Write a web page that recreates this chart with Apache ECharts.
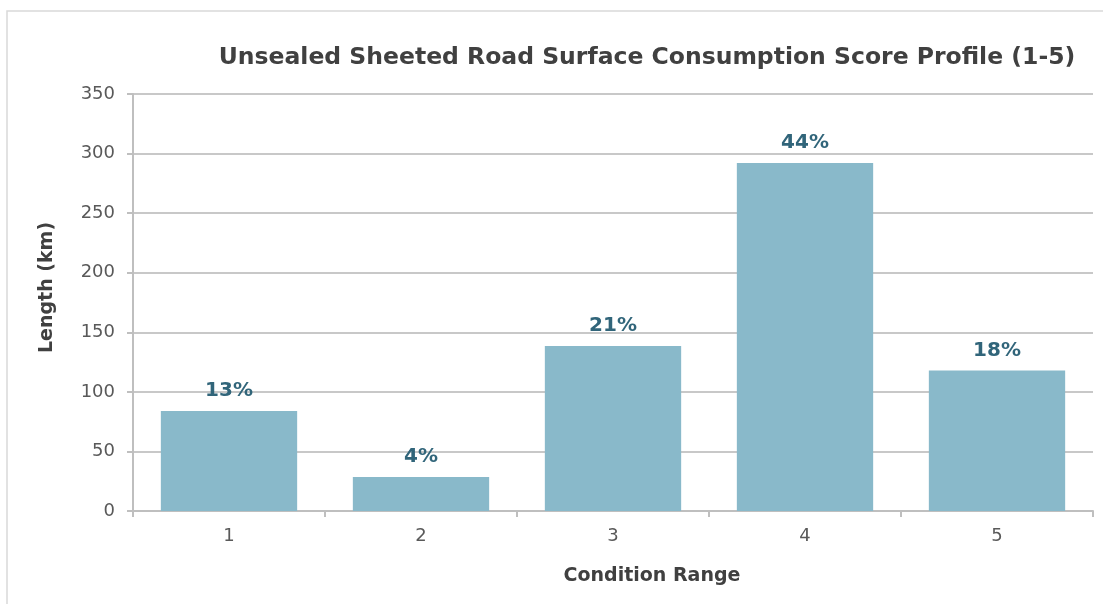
<!DOCTYPE html>
<html>
<head>
<meta charset="utf-8">
<script src="https://cdn.jsdelivr.net/npm/echarts@6/dist/echarts.min.js"></script>
<style>
  html, body { margin: 0; padding: 0; background: #ffffff; }
  #chart { width: 1103px; height: 604px; }
</style>
</head>
<body>
<div id="chart"></div>
<script>
// Condition score bands (1 = best, 5 = worst)
const categories = ['1', '2', '3', '4', '5'];
// Network length in each band, km
const lengthKm = [84, 28.5, 138.5, 292, 118];
// Share of total length, as printed above each bar
const shareLabels = ['13%', '4%', '21%', '44%', '18%'];
// Value axis range
const yMin = 0, yMax = 350, yStep = 50;

const FONT = '"DejaVu Sans", Verdana, sans-serif';
const chart = echarts.init(document.getElementById('chart'));

chart.setOption({
  animation: false,
  backgroundColor: '#ffffff',
  graphic: [{
    type: 'rect',
    shape: { x: 7, y: 11, width: 1110, height: 620 },
    style: { fill: 'none', stroke: '#d9d9d9', lineWidth: 1.5 },
    silent: true
  }],
  title: {
    text: 'Unsealed Sheeted Road Surface Consumption Score Profile (1-5)',
    left: 642,
    top: 41,
    textAlign: 'center',
    textStyle: { fontFamily: FONT, fontSize: 23.5, fontWeight: 'bold', color: '#404040' }
  },
  grid: { left: 133, right: 10, top: 94, bottom: 93 },
  xAxis: {
    type: 'category',
    data: categories,
    name: 'Condition Range',
    nameLocation: 'middle',
    nameGap: 56,
    nameTextStyle: {
      fontFamily: FONT, fontSize: 19, fontWeight: 'bold', color: '#404040',
      padding: [0, 0, 0, 78]
    },
    axisLine: { lineStyle: { color: '#bfbfbf', width: 2 } },
    axisTick: { show: true, length: 6, lineStyle: { color: '#bfbfbf', width: 2 } },
    axisLabel: { fontFamily: FONT, fontSize: 18, color: '#595959', margin: 16 }
  },
  yAxis: {
    type: 'value',
    min: yMin,
    max: yMax,
    interval: yStep,
    name: 'Length (km)',
    nameLocation: 'middle',
    nameGap: 76,
    nameTextStyle: {
      fontFamily: FONT, fontSize: 19, fontWeight: 'bold', color: '#404040',
      padding: [0, 0, 0, 30]
    },
    axisLine: { show: true, lineStyle: { color: '#bfbfbf', width: 2 } },
    axisTick: { show: true, length: 6, lineStyle: { color: '#bfbfbf', width: 2 } },
    axisLabel: { fontFamily: FONT, fontSize: 18, color: '#595959', margin: 18 },
    splitLine: { lineStyle: { color: '#c8c8c8', width: 2 } }
  },
  series: [{
    type: 'bar',
    data: lengthKm,
    barWidth: '71%',
    itemStyle: { color: '#89b9ca' },
    label: {
      show: true,
      position: 'top',
      distance: 10,
      formatter: p => shareLabels[p.dataIndex],
      fontFamily: FONT,
      fontSize: 20,
      fontWeight: 'bold',
      color: '#31657a'
    }
  }]
});
</script>
</body>
</html>
